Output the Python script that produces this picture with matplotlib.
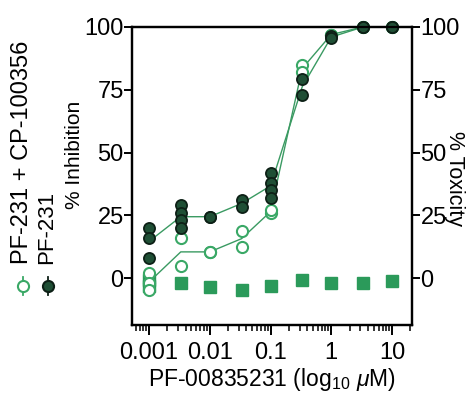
import numpy as np
import matplotlib.pyplot as plt
from matplotlib.lines import Line2D
from matplotlib.ticker import LogLocator, FixedLocator, NullFormatter

plt.rcParams['font.family'] = ['Liberation Sans', 'DejaVu Sans']
plt.rcParams['mathtext.fontset'] = 'custom'
plt.rcParams['mathtext.rm'] = 'Liberation Sans'
plt.rcParams['mathtext.it'] = 'Liberation Sans:italic'

# concentrations (uM), half-log dilutions
conc = [0.001, 0.00333, 0.01, 0.0333, 0.1, 0.333, 1, 3.33, 10]

# % inhibition replicates, PF-231 alone
pf231 = [[20, 16, 8], [29, 26, 23, 20], [24.5, 24.5], [31, 28.5],
         [42, 38, 35, 32], [79.5, 73], [96.5, 95.5], [100, 100], [100, 100]]
# % inhibition replicates, PF-231 + CP-100356
combo = [[2, -2, -4.5], [16, 5], [10.5, 10.5], [19, 12.5],
         [26, 27], [85, 82], [97, 97], [100, 100], [100, 100]]
# % toxicity
tox = [[-0.5, -3], [-2], [-3.5], [-4.5], [-3], [-0.5], [-2], [-2], [-1]]

dark = '#1f4f35'
green = '#3aa866'
sq_green = '#2b9a5a'
line_c = '#3a9a62'

fig = plt.figure(figsize=(4.72, 4.01), dpi=100)
ax = fig.add_axes([0.2797, 0.1895, 0.5933, 0.7432])

def scatter_reps(data, **kw):
  xs, ys = [], []
  for c, reps in zip(conc, data):
    xs += [c] * len(reps)
    ys += reps
  ax.plot(xs, ys, ls='none', clip_on=False, **kw)

ax.plot(conc, [np.mean(r) for r in combo], color=line_c, lw=1.0, zorder=2, clip_on=False)
ax.plot(conc, [np.mean(r) for r in pf231], color=line_c, lw=1.0, zorder=2, clip_on=False)
scatter_reps(tox, marker='s', ms=9, mfc=sq_green, mec=sq_green, zorder=3)
scatter_reps(combo, marker='o', ms=8, mfc='white', mec=green, mew=1.5, zorder=4)
scatter_reps(pf231, marker='o', ms=8, mfc=dark, mec='#0d2016', mew=1.3, zorder=5)

ax.set_xscale('log')
ax.set_xlim(10 ** -3.28, 10 ** 1.33)
ax.set_ylim(-18.6, 100)
ax.xaxis.set_major_locator(FixedLocator([0.001, 0.01, 0.1, 1, 10]))
ax.set_xticklabels(['0.001', '0.01', '0.1', '1', '10'])
ax.xaxis.set_minor_locator(LogLocator(base=10, subs=np.arange(2, 10), numticks=20))
ax.xaxis.set_minor_formatter(NullFormatter())
ax.set_yticks([0, 25, 50, 75, 100])

for s in ax.spines.values():
  s.set_linewidth(1.6)
ax.tick_params(axis='both', which='major', direction='out', length=6, width=1.4,
               labelsize=17, pad=1)
ax.tick_params(axis='x', which='major', length=7, pad=5)
ax.tick_params(axis='x', which='minor', direction='out', length=4.5, width=1.1)
ax.tick_params(axis='y', pad=0)

ax2 = ax.twinx()
ax2.set_ylim(-18.6, 100)
ax2.set_yticks([0, 25, 50, 75, 100])
ax2.tick_params(axis='y', direction='out', length=6, width=1.4, labelsize=17, pad=0)
for s in ax2.spines.values():
  s.set_linewidth(1.6)

ax.set_xlabel(r'PF-00835231 (log$_{10}$ $\mu$M)', fontsize=16.5, labelpad=2)
ax.set_ylabel('% Inhibition', fontsize=15, labelpad=0)
ax.yaxis.set_label_coords(-0.17, 0.57)
ax2.set_ylabel('% Toxicity', fontsize=15.5, rotation=270, labelpad=0)
ax2.yaxis.set_label_coords(1.19, 0.49)

# rotated legend on the left
fig.text(22 / 472, 1 - 264 / 401, 'PF-231 + CP-100356', rotation=90,
         ha='center', va='bottom', fontsize=17)
fig.text(47 / 472, 1 - 264 / 401, 'PF-231', rotation=90,
         ha='center', va='bottom', fontsize=16)
for lx, mfc, mec in [(23, 'white', green), (48, dark, '#0d2016')]:
  fig.add_artist(Line2D([lx / 472, lx / 472], [1 - 277 / 401, 1 - 295 / 401],
                        color=mec, lw=1.3, transform=fig.transFigure))
  fig.add_artist(Line2D([lx / 472], [1 - 286 / 401], marker='o', ms=8,
                        mfc=mfc, mec=mec, mew=1.5, transform=fig.transFigure))

fig.savefig('out.png', dpi=100)
